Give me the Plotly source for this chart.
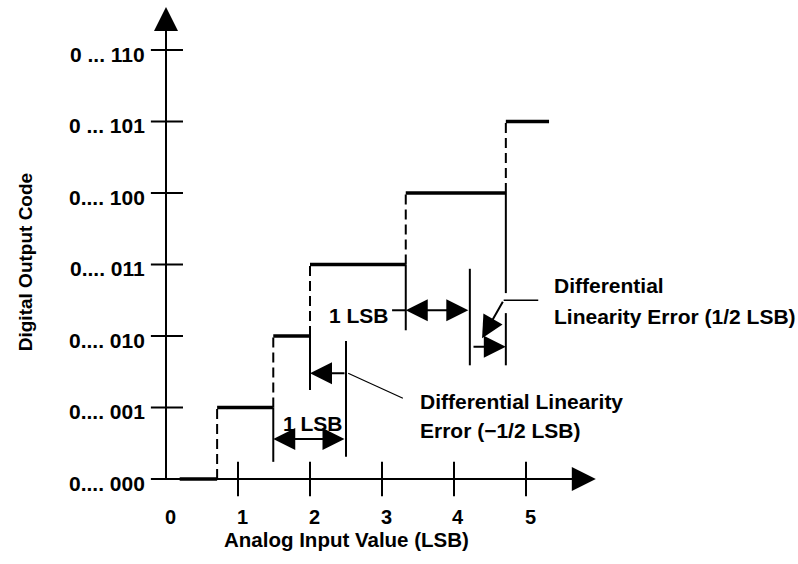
import plotly.graph_objects as go

# ---------------- data ----------------
code_ticks = [0, 1, 2, 3, 4, 5, 6]
code_labels = ["0.... 000", "0.... 001", "0.... 010", "0.... 011",
               "0.... 100", "0 ... 101", "0 ... 110"]
x_ticks = [1, 2, 3, 4, 5]
x_label_vals = [0, 1, 2, 3, 4, 5]
x_tick_labels = ["0", "1", "2", "3", "4", "5"]

step_codes = [0, 1, 2, 3, 4, 5]
step_start = [0.19, 0.71, 1.49, 2.0, 3.33, 4.72]
step_end = [0.71, 1.49, 2.0, 3.33, 4.72, 5.32]

# solid vertical marker lines (x, y_top, y_bottom)
mark_x = [1.49, 2.0, 3.33, 4.72, 4.72, 2.5, 4.22]
mark_y0 = [1.0, 2.0, 3.0, 4.0, 2.32, 1.93, 2.94]
mark_y1 = [0.24, 1.245, 2.08, 2.6, 1.59, 0.31, 1.59]

# arrows: head (x, y), tail (x, y), double-headed?
arr_hx = [1.49, 2.0, 3.33, 4.72, 4.39]
arr_hy = [0.56, 1.48, 2.36, 1.85, 1.97]
arr_tx = [2.5, 2.5, 4.22, 4.25, 4.69]
arr_ty = [0.56, 1.48, 2.36, 1.85, 2.50]
arr_both = [True, False, True, False, False]

# thin leader lines
lead_x0 = [2.53, 4.69, 3.14]
lead_y0 = [1.48, 2.50, 2.36]
lead_x1 = [3.29, 5.17, 3.33]
lead_y1 = [1.13, 2.50, 2.36]
lead_w = [1.2, 1.5, 2.0]

# note text lines
notes = ["1 LSB", "1 LSB",
         "Differential Linearity", "Error (\u22121/2 LSB)",
         "Differential", "Linearity Error (1/2 LSB)"]
note_x = [2.04, 3.125, 3.5, 3.5, 5.36, 5.36]
note_y = [0.78, 2.29, 1.09, 0.685, 2.70, 2.27]
note_anchor = ["center", "right", "left", "left", "left", "left"]

x_title = "Analog Input Value (LSB)"
y_title = "Digital Output Code"

# ---------------- layout geometry ----------------
W, H = 798, 564
X0_PX, PX_X = 166, 72.0
Y0_PX, PX_Y = 479, 71.5
xr = [-X0_PX / PX_X, (W - X0_PX) / PX_X]
yr = [(Y0_PX - H) / PX_Y, Y0_PX / PX_Y]
X_TIP = 5.97
Y_TIP = 6.6

FONT = "Liberation Sans, Arial, sans-serif"
BLACK = "#000000"

fig = go.Figure()
shapes = []
ann = []

def line(x0, y0, x1, y1, w=2, dash="solid"):
    shapes.append(dict(type="line", xref="x", yref="y", x0=x0, y0=y0, x1=x1, y1=y1,
                       line=dict(color=BLACK, width=w, dash=dash)))

# axes
line(0, 0, 0, Y_TIP - 0.2, 2)
line(0, 0, X_TIP - 0.2, 0, 2)
for c in code_ticks:
    line(-0.21, c, 0.236, c, 2)
for t in x_ticks:
    line(t, 0.24, t, -0.24, 2)

# axis arrowheads
for hx, hy, tx, ty in [(0, Y_TIP, 0, Y_TIP - 0.3), (X_TIP, 0, X_TIP - 0.3, 0)]:
    ann.append(dict(x=hx, y=hy, ax=tx, ay=ty, xref="x", yref="y", axref="x", ayref="y",
                    text="", showarrow=True, arrowhead=2, arrowwidth=2, arrowsize=2.4,
                    arrowcolor=BLACK))

# steps
for c, s, e in zip(step_codes, step_start, step_end):
    line(s, c, e, c, 3.5)
# dashed risers
for c in step_codes[1:]:
    xs = step_start[c]
    line(xs, c - 1, xs, c, 2, "10px,5px")
# solid marker lines
for x, a, b in zip(mark_x, mark_y0, mark_y1):
    line(x, a, x, b, 2)
# leaders
for x0, y0, x1, y1, w in zip(lead_x0, lead_y0, lead_x1, lead_y1, lead_w):
    line(x0, y0, x1, y1, w)

# dimension arrows
for hx, hy, tx, ty, both in zip(arr_hx, arr_hy, arr_tx, arr_ty, arr_both):
    ann.append(dict(x=hx, y=hy, ax=tx, ay=ty, xref="x", yref="y", axref="x", ayref="y",
                    text="", showarrow=True, arrowhead=2, arrowwidth=2, arrowsize=2.2,
                    arrowside="end+start" if both else "end",
                    startarrowhead=2, startarrowsize=2.2, arrowcolor=BLACK))

# tick labels
for c, lab in zip(code_ticks, code_labels):
    ann.append(dict(x=-0.264, y=c, xref="x", yref="y", text=lab, showarrow=False,
                    xanchor="right", yanchor="middle", yshift=-4,
                    font=dict(family=FONT, size=21, color=BLACK, weight="bold")))
for v, lab in zip(x_label_vals, x_tick_labels):
    ann.append(dict(x=v + 0.06, y=-0.53, xref="x", yref="y", text=lab, showarrow=False,
                    xanchor="center", yanchor="middle",
                    font=dict(family=FONT, size=20, color=BLACK, weight="bold")))

# notes
for t, x, y, a in zip(notes, note_x, note_y, note_anchor):
    ann.append(dict(x=x, y=y, xref="x", yref="y", text=t, showarrow=False,
                    xanchor=a, yanchor="middle",
                    font=dict(family=FONT, size=21, color=BLACK, weight="bold")))

# axis titles
ann.append(dict(x=2.51, y=-0.85, xref="x", yref="y", text=x_title, showarrow=False,
                xanchor="center", yanchor="middle",
                font=dict(family=FONT, size=20.5, color=BLACK, weight="bold")))
ann.append(dict(x=-1.96, y=3.03, xref="x", yref="y", text=y_title, showarrow=False,
                textangle=-90, xanchor="center", yanchor="middle",
                font=dict(family=FONT, size=19, color=BLACK, weight="bold")))

fig.update_layout(
    width=W, height=H, margin=dict(l=0, r=0, t=0, b=0),
    paper_bgcolor="white", plot_bgcolor="white",
    xaxis=dict(range=xr, visible=False, fixedrange=True),
    yaxis=dict(range=yr, visible=False, fixedrange=True),
    shapes=shapes, annotations=ann, showlegend=False,
)
fig.write_html("out.html", config={"displayModeBar": False},
               post_script="document.body.style.margin='0';document.body.style.overflow='hidden';")
